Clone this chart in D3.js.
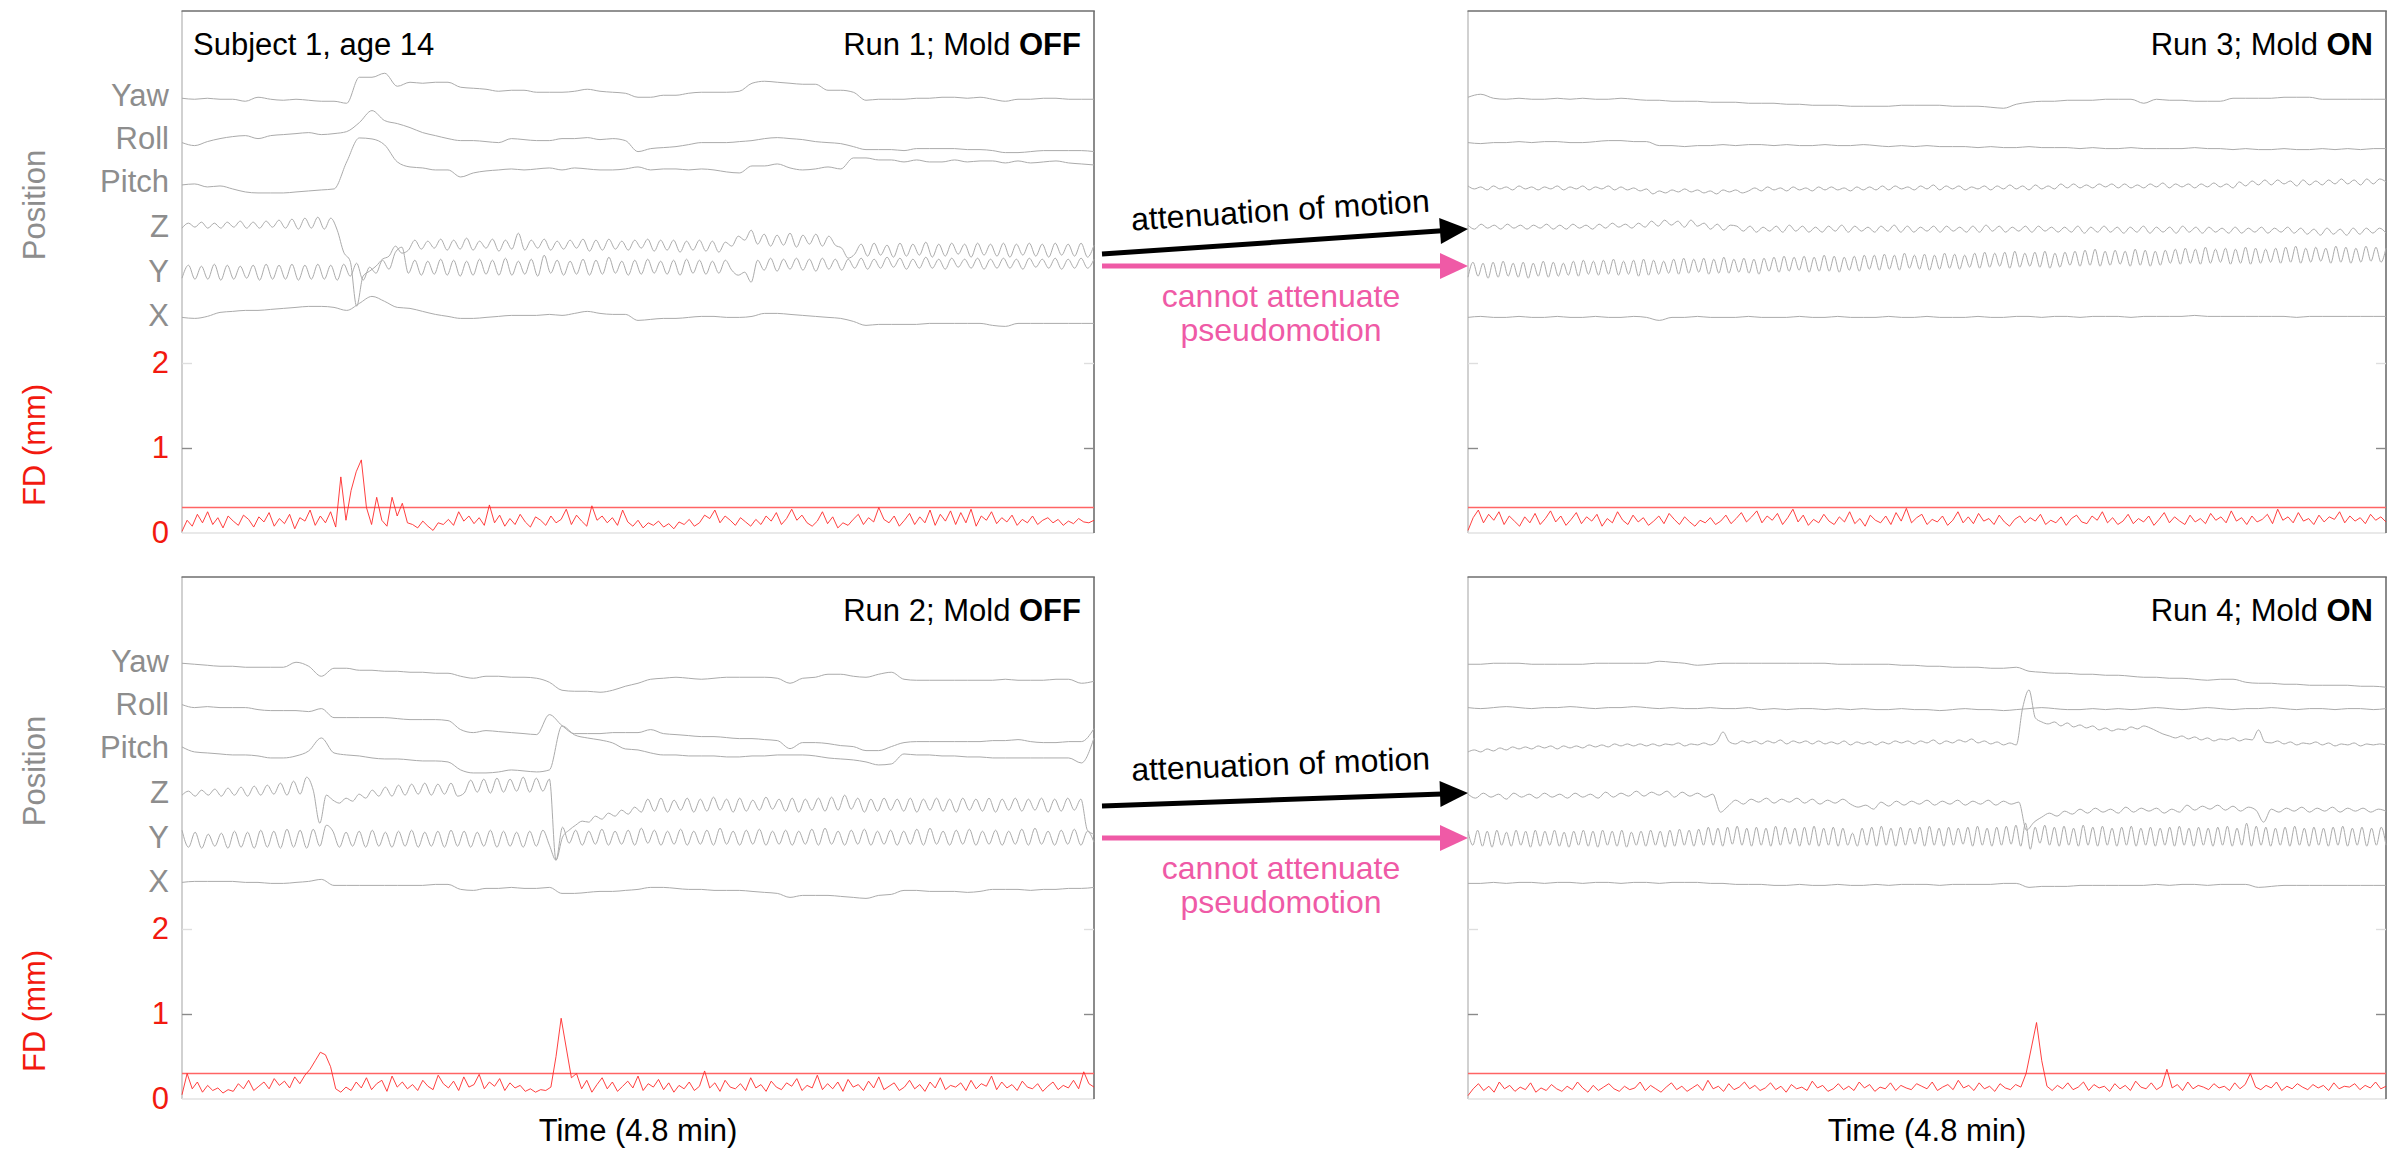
<!DOCTYPE html>
<html><head><meta charset="utf-8">
<script src="https://cdn.jsdelivr.net/npm/d3@7"></script>
<style>
body{margin:0;background:#fff}
svg{display:block}
text{font-family:"Liberation Sans",Arial,Helvetica,sans-serif}
</style>
</head><body>
<svg id="chart" width="2400" height="1149"></svg>
<script>
// ---------------- DATA ----------------
const channelLabels = ["Yaw","Roll","Pitch","Z","Y","X"];
const channelTicks  = [5.15,4.64,4.13,3.61,3.08,2.56];   // axis positions of the position channels (FD-axis units)
const fdTicks = [2,1,0];
const fdThreshold = 0.3;
const runTitles = ["Run 1; Mold ","Run 2; Mold ","Run 3; Mold ","Run 4; Mold "];
const runStates = ["OFF","OFF","ON","ON"];
const subjectLabel = "Subject 1, age 14";
const timeLabel = "Time (4.8 min)";

// Run 1 (mold off)
const run1Yaw = [-3,-4,-3,-4,-4,-6,-2,-4,-5,-4,-5,-6,-6,-8,18,18,22,9,13,12,13,13,8,7,6,4,5,5,3,3,3,4,6,4,3,2,-2,-2,0,0,2,3,3,3,4,12,14,13,12,11,11,5,5,3,-5,-4,-4,-4,-3,-3,-2,-2,-3,-2,-4,-6,-4,-4,-3,-3,-4,-4,-4];
const run1Roll = [-4,-7,-3,0,2,3,0,3,4,5,6,4,5,7,16,28,18,15,11,6,3,0,-2,-2,-3,-4,0,-1,-2,-2,0,0,1,-1,0,-2,-13,-10,-9,-8,-6,-4,-4,-4,-3,-2,0,1,0,-1,-3,-4,-5,-8,-11,-11,-11,-12,-10,-10,-10,-10,-11,-11,-12,-14,-14,-13,-12,-12,-12,-12,-13];
const run1Pitch = [-3,-2,-5,-4,-7,-10,-11,-11,-11,-10,-9,-8,-7,20,44,43,37,20,15,14,12,12,5,9,11,12,13,12,13,14,12,14,13,12,12,13,15,12,13,13,12,13,12,10,9,16,16,18,14,12,13,15,13,24,24,22,22,20,22,20,20,22,20,21,21,19,21,19,20,21,19,18,17];
const run1Z = [-2,3,-1,4,-2,3,-2,4,-1,5,-2,4,-2,5,-1,6,-2,7,-3,8,-2,9,-3,8,-4,-26,-35,-80,-50,-45,-40,-33,-30,-20,-27,-24,-14,-23,-15,-22,-13,-24,-14,-23,-12,-24,-15,-22,-13,-25,-14,-23,-7,-24,-14,-22,-13,-24,-15,-23,-14,-22,-13,-25,-14,-24,-13,-23,-15,-24,-14,-22,-13,-25,-14,-24,-14,-26,-15,-24,-14,-25,-15,-26,-16,-20,-10,-14,-4,-18,-8,-20,-9,-19,-7,-21,-9,-18,-8,-20,-10,-19,-22,-32,-28,-18,-30,-17,-29,-19,-31,-17,-30,-18,-29,-16,-31,-18,-30,-17,-28,-18,-31,-17,-29,-18,-30,-17,-31,-18,-29,-17,-30,-18,-31,-17,-29,-18,-30,-17,-31,-19];
const run1Y = [-7,6,-8,5,-8,7,-9,6,-8,5,-7,6,-9,7,-8,6,-8,7,-9,6,-8,7,-8,6,-9,7,-5,8,-9,4,-2,11,2,19,24,-2,11,-4,10,-3,12,-4,11,-5,10,-4,12,-3,11,-4,13,-4,10,-3,12,-5,16,-2,11,-4,10,-3,12,-4,11,-3,14,-2,10,-4,11,-3,12,-2,10,-3,11,-4,12,-2,11,-3,10,-2,11,1,-4,-1,-11,11,1,13,0,12,2,13,1,12,0,13,2,12,1,12,3,13,2,12,3,14,4,13,2,12,3,14,3,12,2,13,4,12,3,13,2,12,3,13,3,12,2,13,4,12,3,13,2,12,3,13,3,12];
const run1X = [-2,-3,-1,3,4,5,5,6,7,8,9,9,8,5,12,19,14,8,7,4,1,-1,-3,-3,-2,-1,0,0,0,1,0,2,4,2,1,1,-5,-4,-3,-3,-2,-1,-1,-2,-2,-1,2,2,1,0,-1,-2,-3,-6,-10,-9,-9,-9,-9,-8,-8,-8,-8,-8,-10,-11,-8,-8,-8,-8,-8,-8,-8];
const run1FD = [0.02,0.15,0.08,0.22,0.12,0.25,0.1,0.18,0.06,0.2,0.14,0.09,0.21,0.16,0.07,0.19,0.13,0.24,0.08,0.17,0.11,0.22,0.05,0.18,0.14,0.27,0.09,0.2,0.12,0.25,0.07,0.66,0.15,0.5,0.72,0.86,0.3,0.1,0.42,0.15,0.08,0.42,0.2,0.35,0.12,0.1,0.06,0.14,0.08,0.03,0.12,0.1,0.16,0.09,0.25,0.14,0.2,0.11,0.18,0.09,0.33,0.12,0.21,0.08,0.17,0.1,0.22,0.13,0.07,0.19,0.15,0.09,0.2,0.12,0.16,0.28,0.1,0.21,0.14,0.08,0.32,0.15,0.2,0.12,0.18,0.09,0.27,0.13,0.08,0.15,0.06,0.12,0.09,0.14,0.07,0.11,0.05,0.13,0.1,0.16,0.08,0.12,0.21,0.17,0.27,0.12,0.2,0.15,0.09,0.18,0.13,0.08,0.16,0.1,0.2,0.14,0.24,0.1,0.17,0.28,0.15,0.21,0.12,0.08,0.14,0.25,0.11,0.19,0.06,0.12,0.09,0.16,0.22,0.1,0.18,0.13,0.3,0.16,0.12,0.2,0.08,0.15,0.23,0.1,0.19,0.12,0.27,0.09,0.22,0.14,0.26,0.1,0.24,0.12,0.28,0.08,0.2,0.15,0.25,0.11,0.18,0.13,0.21,0.09,0.16,0.12,0.2,0.1,0.15,0.18,0.12,0.16,0.09,0.14,0.11,0.17,0.13,0.12,0.15];

// Run 2 (mold off)
const run2Yaw = [-2,-3,-4,-5,-5,-6,-6,-6,-6,-1,-5,-15,-7,-7,-9,-9,-10,-10,-11,-11,-12,-12,-15,-17,-15,-15,-16,-16,-17,-21,-29,-30,-30,-31,-29,-25,-22,-18,-17,-16,-17,-18,-17,-16,-16,-16,-16,-17,-22,-17,-16,-13,-13,-15,-16,-13,-11,-18,-19,-19,-19,-19,-19,-19,-19,-18,-19,-19,-19,-18,-18,-22,-20];
const run2Roll = [0,-3,-2,-3,-3,-3,-5,-6,-6,-6,-7,-4,-13,-13,-13,-13,-13,-14,-15,-15,-15,-16,-25,-28,-26,-27,-28,-29,-30,-10,-21,-29,-29,-29,-28,-28,-28,-25,-29,-30,-31,-32,-32,-33,-34,-34,-35,-36,-44,-38,-38,-39,-41,-42,-46,-46,-42,-38,-37,-37,-37,-37,-37,-37,-36,-36,-35,-37,-38,-38,-37,-37,-24];
const run2Pitch = [1,-4,-5,-6,-7,-7,-8,-10,-10,-8,-3,10,-5,-7,-8,-10,-11,-11,-12,-13,-13,-14,-22,-25,-25,-24,-22,-23,-24,-22,22,13,10,8,5,-1,-2,-5,-7,-7,-8,-8,-8,-9,-9,-8,-8,-7,-7,-7,-8,-10,-11,-12,-14,-17,-16,-6,-7,-7,-8,-8,-9,-9,-10,-10,-10,-10,-10,-10,-10,-15,10];
const run2Z = [-3,1,-4,2,-3,3,-4,4,-3,5,-4,6,-3,7,-2,9,-3,11,-2,15,2,-31,-3,-8,-11,-6,-9,-2,-6,2,-4,5,-4,7,-3,8,-2,9,-3,8,-2,9,-4,-1,12,0,13,-1,14,0,13,1,15,0,14,1,13,-68,-45,-38,-33,-29,-30,-24,-27,-21,-24,-18,-22,-15,-20,-7,-19,-6,-20,-8,-18,-6,-20,-7,-19,-5,-18,-7,-20,-6,-19,-8,-18,-5,-17,-7,-19,-6,-20,-7,-18,-6,-19,-5,-18,-3,-17,-6,-20,-7,-19,-6,-18,-7,-19,-6,-20,-7,-18,-6,-19,-7,-20,-6,-18,-7,-19,-6,-20,-7,-18,-6,-19,-7,-18,-6,-20,-7,-19,-6,-18,-7,-38,-42];
const run2Y = [7,-10,5,-11,3,-9,4,-11,6,-10,5,-11,7,-10,6,-11,8,-10,7,-11,8,-9,12,6,-10,5,-9,6,-10,7,-9,5,-10,6,-9,7,-10,5,-9,6,-10,7,-9,6,-10,5,-9,7,-10,6,-9,5,-10,6,-9,7,-8,-23,10,-6,7,-8,6,-7,8,-8,6,-7,7,-8,9,-6,7,-8,6,-7,8,-8,6,-7,7,-8,9,-7,6,-8,7,-7,8,-8,6,-7,7,-8,6,-7,8,-8,9,-7,6,-8,7,-7,8,-8,6,-7,7,-8,6,-7,8,-8,9,-7,6,-8,7,-7,8,-8,6,-7,7,-8,6,-7,8,-8,9,-7,6,-8,7,-7,8,-8,6,-5];
const run2X = [-1,0,0,0,0,-1,-1,-2,-2,-1,0,2,-4,-4,-4,-4,-4,-4,-4,-4,-3,-3,-8,-9,-7,-7,-6,-7,-7,-6,-12,-12,-11,-10,-10,-9,-8,-6,-6,-7,-8,-8,-9,-9,-9,-10,-11,-12,-16,-14,-14,-14,-15,-16,-17,-14,-13,-9,-9,-10,-10,-10,-11,-10,-8,-8,-8,-9,-8,-8,-7,-7,-6];
const run2FD = [0.05,0.3,0.12,0.2,0.08,0.16,0.1,0.13,0.07,0.11,0.09,0.18,0.12,0.22,0.1,0.15,0.2,0.12,0.24,0.16,0.21,0.13,0.26,0.18,0.28,0.35,0.45,0.55,0.52,0.38,0.12,0.08,0.14,0.1,0.2,0.13,0.25,0.11,0.18,0.22,0.09,0.27,0.14,0.2,0.12,0.17,0.1,0.22,0.15,0.11,0.28,0.18,0.13,0.21,0.1,0.26,0.14,0.17,0.29,0.12,0.2,0.15,0.24,0.1,0.19,0.13,0.16,0.09,0.12,0.08,0.11,0.1,0.14,0.5,0.95,0.6,0.25,0.3,0.12,0.22,0.08,0.17,0.25,0.12,0.2,0.09,0.15,0.21,0.13,0.27,0.1,0.18,0.14,0.23,0.11,0.19,0.08,0.16,0.12,0.2,0.1,0.15,0.33,0.13,0.19,0.09,0.22,0.14,0.12,0.18,0.1,0.25,0.13,0.17,0.09,0.21,0.14,0.11,0.19,0.15,0.24,0.1,0.16,0.13,0.28,0.11,0.18,0.12,0.2,0.09,0.23,0.14,0.17,0.1,0.21,0.13,0.26,0.11,0.15,0.19,0.1,0.14,0.22,0.12,0.17,0.09,0.2,0.13,0.25,0.11,0.16,0.14,0.19,0.1,0.22,0.12,0.18,0.15,0.27,0.11,0.2,0.13,0.17,0.1,0.21,0.14,0.12,0.18,0.09,0.15,0.2,0.11,0.16,0.13,0.22,0.12,0.32,0.18,0.14];

// Run 3 (mold on)
const run3Yaw = [-2,1,-3,-4,-3,-4,-4,-3,-4,-3,-4,-4,-3,-4,-5,-5,-6,-6,-6,-7,-7,-7,-8,-8,-8,-9,-9,-10,-10,-10,-11,-11,-11,-11,-10,-10,-10,-10,-11,-11,-11,-12,-13,-9,-7,-6,-6,-5,-5,-5,-4,-4,-4,-8,-4,-5,-5,-6,-6,-6,-3,-3,-3,-3,-2,-2,-2,-4,-4,-4,-4,-4,-4];
const run3Roll = [-4,-5,-4,-4,-3,-4,-3,-3,-4,-4,-3,-2,-2,-3,-3,-7,-7,-8,-7,-7,-6,-7,-6,-6,-7,-6,-7,-7,-6,-7,-7,-6,-7,-8,-7,-8,-7,-8,-8,-8,-9,-8,-9,-9,-8,-9,-9,-9,-10,-9,-10,-10,-9,-10,-10,-10,-10,-9,-10,-10,-11,-10,-11,-11,-10,-11,-11,-10,-11,-10,-11,-10,-10];
const run3Pitch = [-4,-7,-5,-8,-4,-7,-5,-8,-4,-7,-5,-8,-5,-7,-4,-8,-5,-7,-4,-8,-5,-7,-4,-8,-5,-8,-6,-9,-7,-12,-9,-11,-8,-10,-7,-10,-8,-11,-9,-12,-8,-10,-8,-11,-9,-6,-9,-5,-8,-6,-9,-5,-8,-6,-9,-5,-8,-5,-8,-6,-9,-5,-8,-5,-8,-4,-8,-4,-7,-5,-8,-4,-7,-3,-8,-4,-7,-4,-8,-5,-7,-4,-8,-4,-7,-3,-7,-4,-8,-3,-7,-4,-7,-2,-6,-2,-6,-3,-6,-2,-5,-2,-6,-2,-6,-3,-6,-2,-5,-1,-6,-2,-5,-2,-6,-2,-5,-1,-5,-2,-6,0,-4,1,-3,2,-3,2,-2,1,-4,2,-3,1,-3,2,-2,3,-2,2,-3,3,-2,3,0];
const run3Z = [1,-3,2,-2,1,-3,2,-2,1,-3,1,-2,2,-3,1,-3,2,-2,1,-3,2,-2,3,-1,2,-2,3,-1,5,0,6,1,5,-1,6,0,3,-3,2,-4,1,0,-5,0,-6,-1,-5,0,-6,1,-5,0,-6,-1,-6,0,-5,1,-6,0,-5,-1,-6,0,-5,1,-6,0,-6,-1,-5,0,-6,0,-5,-1,-6,0,-6,1,-5,0,-6,-1,-5,0,-6,0,-5,-1,-6,-1,-6,0,-7,-1,-6,0,-6,-1,-7,-1,-6,0,-7,-1,-6,-1,-7,0,-6,-1,-7,-1,-6,-2,-7,-1,-7,-2,-6,-1,-7,-2,-6,-1,-7,-2,-8,-3,-9,-2,-8,-3,-9,-2,-8,-2,-7,-2,-7];
const run3Y = [-6,9,-5,8,-7,9,-6,10,-5,8,-6,9,-7,8,-5,10,-6,9,-5,8,-4,10,-5,11,-3,10,-4,11,-3,12,-4,10,-3,11,-5,12,-4,11,-3,10,-2,12,-3,13,-2,12,-1,13,-3,12,-2,14,-2,12,-1,13,-2,12,-3,13,0,14,-1,15,0,14,1,15,-1,14,0,16,0,15,-1,14,1,15,0,16,2,16,1,17,2,16,1,18,3,16,2,17,1,16,2,18,3,17,2,16,4,18,3,19,4,18,5,19,3,20,4,18,5,19,4,20,3,18,4,19,6,20,5,21,6,22,5,20,6,21,7,20,5,22,6,21,5,20,6,21,8,22,7,23,8,22,7,24,8,22,9,23,7,22,8,24,7,23,8,22,9,23,8,24,9,25,8,23,9,24,10,23,8,25,9,24,8,23,9,25,10,24,9,23];
const run3X = [-2,-1,-2,-2,-1,-2,-2,-1,-2,-2,-1,-2,-2,-1,-2,-5,-2,-2,-1,-2,-2,-2,-1,-2,-2,-2,-1,-2,-2,-1,-2,-2,-2,-1,-2,-2,-1,-2,-2,-2,-1,-2,-2,-1,-1,-2,-1,-1,-2,-1,-1,-1,-2,-1,-1,-1,-1,0,-1,-1,-1,-1,-1,-1,-1,-2,-1,-1,-1,-1,-1,-1,-1];
const run3FD = [0.03,0.18,0.27,0.12,0.22,0.15,0.25,0.1,0.2,0.14,0.08,0.19,0.12,0.23,0.1,0.17,0.26,0.13,0.2,0.09,0.16,0.24,0.11,0.19,0.14,0.22,0.08,0.17,0.12,0.25,0.15,0.1,0.21,0.13,0.18,0.09,0.14,0.2,0.11,0.23,0.16,0.1,0.19,0.13,0.08,0.15,0.12,0.18,0.1,0.14,0.21,0.11,0.17,0.24,0.13,0.19,0.26,0.12,0.2,0.15,0.23,0.1,0.18,0.28,0.13,0.21,0.09,0.16,0.12,0.22,0.14,0.1,0.19,0.13,0.25,0.11,0.17,0.08,0.21,0.15,0.12,0.2,0.1,0.24,0.14,0.29,0.12,0.18,0.22,0.1,0.16,0.13,0.2,0.09,0.15,0.25,0.12,0.19,0.11,0.23,0.14,0.17,0.1,0.21,0.13,0.08,0.16,0.2,0.12,0.18,0.14,0.22,0.1,0.15,0.12,0.19,0.09,0.17,0.21,0.13,0.11,0.2,0.15,0.25,0.12,0.18,0.1,0.14,0.22,0.11,0.17,0.13,0.2,0.09,0.16,0.24,0.12,0.19,0.14,0.1,0.21,0.13,0.17,0.11,0.23,0.15,0.19,0.12,0.26,0.14,0.18,0.1,0.2,0.13,0.16,0.22,0.11,0.28,0.15,0.19,0.12,0.24,0.14,0.17,0.1,0.21,0.13,0.19,0.16,0.25,0.12,0.2,0.14,0.18,0.11,0.22,0.15,0.19,0.13];

// Run 4 (mold on)
const run4Yaw = [-3,-3,-2,-2,-2,-3,-3,-3,-3,-3,-2,-2,-2,-2,-2,0,-1,-2,-4,-3,-2,-2,-2,-2,-2,-2,-2,-2,-2,-3,-3,-3,-3,-3,-4,-4,-5,-5,-6,-6,-6,-7,-7,-6,-10,-11,-12,-12,-13,-13,-14,-14,-15,-16,-16,-17,-17,-18,-19,-18,-18,-21,-22,-22,-23,-23,-24,-24,-24,-24,-25,-25,-26];
const run4Roll = [-3,-4,-3,-2,-3,-4,-3,-3,-2,-3,-4,-3,-3,-2,-3,-4,-3,-4,-4,-3,-4,-4,-3,-5,-4,-5,-4,-4,-5,-4,-5,-4,-5,-5,-4,-5,-5,-6,-5,-4,-5,-5,-6,-5,-4,-3,-4,-5,-5,-4,-5,-4,-5,-4,-3,-4,-5,-4,-3,-4,-5,-4,-4,-3,-4,-5,-4,-4,-5,-4,-4,-5,-4];
const run4Pitch = [-4,-2,-4,-1,-3,0,-2,1,-1,1,-1,2,0,2,-1,2,0,2,0,3,1,3,1,4,2,4,2,4,2,4,2,4,3,5,2,4,3,5,3,6,16,6,4,7,5,7,4,7,5,8,4,7,5,7,4,7,4,6,4,7,3,6,4,6,3,6,4,7,5,7,4,7,5,8,4,7,5,8,6,9,5,7,4,6,3,5,3,40,58,30,26,24,26,22,25,21,23,20,22,18,20,17,19,18,21,19,22,20,17,14,12,10,12,9,11,8,10,7,9,8,10,7,9,8,18,6,5,7,4,6,3,5,4,6,3,5,2,4,3,5,2,4,3,4,3];
const run4Z = [-2,-6,-1,-5,-2,-7,-1,-5,-2,-6,-1,-5,-2,-6,-1,-5,-2,-6,0,-5,-1,-4,1,-4,0,-3,1,-5,0,-4,-1,-5,-2,-20,-14,-8,-12,-7,-10,-6,-11,-7,-10,-6,-11,-7,-12,-8,-11,-7,-12,-15,-13,-17,-10,-14,-9,-13,-9,-12,-8,-13,-9,-12,-8,-13,-9,-12,-8,-13,-9,-12,-10,-38,-30,-25,-21,-24,-19,-22,-17,-21,-16,-20,-17,-21,-15,-20,-16,-19,-16,-21,-17,-20,-13,-18,-14,-17,-13,-18,-14,-19,-15,-18,-30,-17,-20,-16,-19,-15,-20,-16,-19,-15,-20,-16,-19,-16,-20,-17,-19];
const run4Y = [6,-8,7,-9,6,-10,7,-8,5,-9,7,-8,6,-10,7,-9,6,-8,7,-9,5,-10,6,-8,7,-9,6,-10,7,-8,6,-9,7,-10,5,-8,6,-9,7,-8,6,-10,7,-9,8,-8,7,-9,8,-8,10,-8,9,-9,10,-7,11,-8,9,-9,10,-8,9,-9,11,-8,10,-7,9,-9,10,-8,11,-9,9,-8,10,-9,9,-8,4,-9,9,-8,10,-9,11,-8,9,-9,10,-8,9,-7,10,-9,11,-8,9,-9,10,-8,9,-7,10,-9,11,-8,9,-9,10,-8,11,-7,12,-9,14,-12,10,-6,12,-8,10,-9,11,-8,9,-9,12,-8,10,-9,11,-8,9,-9,10,-8,11,-9,9,-8,10,-9,9,-8,10,-9,11,-8,9,-9,10,-8,9,-9,10,-8,11,-9,9,-8,14,-9,11,-8,10,-9,9,-8,10,-9,11,-8,9,-9,10,-8,9,-9,10,-8,11,-9,9,-8,10,-9,9,-8,10,-8];
const run4X = [-2,-2,-1,-2,-1,-1,-2,-1,-1,-2,-1,-1,-2,-1,-1,-2,-1,-1,-1,-2,-2,-3,-3,-3,-4,-4,-3,-4,-4,-3,-4,-4,-3,-4,-3,-3,-3,-4,-3,-3,-3,-3,-2,-2,-6,-5,-5,-5,-4,-4,-4,-4,-4,-4,-3,-4,-3,-3,-4,-3,-3,-3,-6,-5,-4,-4,-4,-4,-4,-4,-4,-4,-4];
const run4FD = [0.04,0.12,0.18,0.1,0.15,0.08,0.2,0.12,0.16,0.09,0.14,0.11,0.19,0.08,0.13,0.1,0.17,0.12,0.09,0.15,0.11,0.2,0.13,0.08,0.16,0.1,0.14,0.18,0.12,0.09,0.15,0.11,0.13,0.2,0.1,0.16,0.12,0.08,0.14,0.19,0.11,0.15,0.09,0.13,0.17,0.1,0.22,0.12,0.15,0.09,0.18,0.11,0.14,0.2,0.12,0.16,0.1,0.13,0.19,0.11,0.15,0.08,0.17,0.12,0.14,0.1,0.21,0.13,0.16,0.09,0.12,0.18,0.11,0.15,0.1,0.2,0.13,0.17,0.09,0.14,0.12,0.19,0.1,0.16,0.13,0.11,0.18,0.15,0.12,0.2,0.1,0.14,0.17,0.11,0.22,0.13,0.16,0.1,0.19,0.12,0.15,0.09,0.18,0.13,0.11,0.17,0.14,0.3,0.6,0.9,0.45,0.15,0.1,0.16,0.12,0.19,0.11,0.14,0.2,0.1,0.17,0.13,0.15,0.09,0.18,0.12,0.16,0.1,0.21,0.14,0.12,0.19,0.11,0.15,0.35,0.13,0.17,0.1,0.2,0.12,0.16,0.14,0.11,0.18,0.13,0.15,0.1,0.19,0.12,0.17,0.3,0.14,0.11,0.16,0.13,0.2,0.1,0.15,0.12,0.18,0.14,0.11,0.17,0.13,0.16,0.1,0.19,0.12,0.15,0.14,0.18,0.11,0.16,0.13,0.2,0.12,0.15];

const annotationTop = "attenuation of motion";
const annotationBottom = ["cannot attenuate","pseudomotion"];

// ---------------- LAYOUT / STYLE ----------------
const runs = [
  {chan:[run1Yaw,run1Roll,run1Pitch,run1Z,run1Y,run1X], fd:run1FD},
  {chan:[run2Yaw,run2Roll,run2Pitch,run2Z,run2Y,run2X], fd:run2FD},
  {chan:[run3Yaw,run3Roll,run3Pitch,run3Z,run3Y,run3X], fd:run3FD},
  {chan:[run4Yaw,run4Roll,run4Pitch,run4Z,run4Y,run4X], fd:run4FD}
];
const panels = [
  {left:182,  top:11,  w:912, h:522, labels:true,  subject:true},
  {left:182,  top:577, w:912, h:522, labels:true,  subject:false},
  {left:1468, top:11,  w:918, h:522, labels:false, subject:false},
  {left:1468, top:577, w:918, h:522, labels:false, subject:false}
];
const pxPerUnit = 85;
const yMax = 522/pxPerUnit;
const posGain = 1/pxPerUnit;
const GRAY_LABEL = "#8d8d8d", RED = "#f2190f", PINK = "#ef5aa6";
const FONT = 31;

const svg = d3.select("#chart");
svg.append("rect").attr("width",2400).attr("height",1149).attr("fill","#fff");

panels.forEach((P, pi) => {
  const run = runs[pi];
  const x = d3.scaleLinear().domain([0,1]).range([P.left, P.left + P.w]);
  const y = d3.scaleLinear().domain([0,yMax]).range([P.top + P.h, P.top]);
  const g = svg.append("g");

  // frame
  g.append("line").attr("x1",P.left).attr("x2",P.left).attr("y1",P.top).attr("y2",P.top+P.h)
    .attr("stroke","#b8b8b8").attr("stroke-width",1.3);
  g.append("line").attr("x1",P.left).attr("x2",P.left+P.w).attr("y1",P.top+P.h).attr("y2",P.top+P.h)
    .attr("stroke","#e2e2e2").attr("stroke-width",1.3);
  g.append("line").attr("x1",P.left-0.5).attr("x2",P.left+P.w+0.8).attr("y1",P.top).attr("y2",P.top)
    .attr("stroke","#6e6e6e").attr("stroke-width",1.6);
  g.append("line").attr("x1",P.left+P.w).attr("x2",P.left+P.w).attr("y1",P.top).attr("y2",P.top+P.h)
    .attr("stroke","#6e6e6e").attr("stroke-width",1.6);

  // inward ticks at FD 1 and 2
  const tickCol = d => d === 1 ? "#8a8a8a" : "#dedede";
  g.append("g").attr("transform",`translate(${P.left},0)`)
    .call(d3.axisRight(y).tickValues([1,2]).tickSize(10).tickFormat(""))
    .call(s => { s.select(".domain").remove(); s.selectAll(".tick line").attr("stroke", tickCol).attr("stroke-width",1.4); });
  g.append("g").attr("transform",`translate(${P.left+P.w},0)`)
    .call(d3.axisLeft(y).tickValues([1,2]).tickSize(10).tickFormat(""))
    .call(s => { s.select(".domain").remove(); s.selectAll(".tick line").attr("stroke", tickCol).attr("stroke-width",1.4); });

  // labelled left axis
  if (P.labels) {
    const vals = channelTicks.concat(fdTicks);
    g.append("g").attr("transform",`translate(${P.left},0)`)
      .call(d3.axisLeft(y).tickValues(vals).tickSize(0).tickPadding(13)
        .tickFormat((d,i) => i < channelLabels.length ? channelLabels[i] : String(d)))
      .call(s => {
        s.select(".domain").remove();
        s.attr("font-family",null).attr("font-size",null);
        s.selectAll(".tick text").attr("font-size",FONT)
          .attr("fill",(d,i) => i < channelLabels.length ? GRAY_LABEL : RED);
      });
    svg.append("text").attr("transform",`translate(45,${P.top + 194}) rotate(-90)`)
      .attr("text-anchor","middle").attr("font-size",FONT).attr("fill",GRAY_LABEL).text("Position");
    svg.append("text").attr("transform",`translate(45,${P.top + 434}) rotate(-90)`)
      .attr("text-anchor","middle").attr("font-size",FONT).attr("fill",RED).text("FD (mm)");
  }

  // threshold line
  g.append("line").attr("x1",P.left).attr("x2",P.left+P.w).attr("y1",y(fdThreshold)).attr("y2",y(fdThreshold))
    .attr("stroke","#ff6464").attr("stroke-width",1.6);

  // FD trace
  const nF = run.fd.length;
  g.append("path").datum(run.fd)
    .attr("d", d3.line().x((d,i) => x(i/(nF-1))).y(d => y(d)))
    .attr("fill","none").attr("stroke","#ff2a2a").attr("stroke-width",0.9);

  // position traces
  run.chan.forEach((series, k) => {
    const n = series.length;
    g.append("path").datum(series)
      .attr("d", d3.line().curve(d3.curveMonotoneX)
        .x((d,i) => x(i/(n-1))).y(d => y(channelTicks[k] + d*posGain)))
      .attr("fill","none").attr("stroke","#ababab").attr("stroke-width",1);
  });

  // titles
  const ty = P.top + 44;
  const tt = svg.append("text").attr("x",P.left+P.w-13).attr("y",ty).attr("text-anchor","end")
    .attr("font-size",FONT).attr("fill","#000");
  tt.append("tspan").text(runTitles[pi]);
  tt.append("tspan").attr("font-weight","bold").text(runStates[pi]);
  if (P.subject) {
    svg.append("text").attr("x",P.left+11).attr("y",ty).attr("font-size",FONT).attr("fill","#000").text(subjectLabel);
  }
  if (pi === 1 || pi === 3) {
    svg.append("text").attr("x",P.left+P.w/2).attr("y",1141).attr("text-anchor","middle")
      .attr("font-size",FONT).attr("fill","#000").text(timeLabel);
  }
});

// arrows + annotations
function arrow(x1,y1,x2,y2,color){
  const ang = Math.atan2(y2-y1,x2-x1), L = 28, W = 13;
  const bx = x2 - L*Math.cos(ang), by = y2 - L*Math.sin(ang);
  svg.append("line").attr("x1",x1).attr("y1",y1).attr("x2",bx+2*Math.cos(ang)).attr("y2",by+2*Math.sin(ang))
    .attr("stroke",color).attr("stroke-width",5);
  const px = -Math.sin(ang)*W, py = Math.cos(ang)*W;
  svg.append("path").attr("d",`M${x2},${y2}L${bx+px},${by+py}L${bx-px},${by-py}Z`).attr("fill",color);
}
const arrowSets = [
  {black:[1102,254,1468,229], pink:[1102,266,1468,266], tx:1281, ty:221, rot:-3.6, p1:307, p2:341},
  {black:[1102,806,1468,793], pink:[1102,838,1468,838], tx:1281, ty:775, rot:-2.2, p1:879, p2:913}
];
arrowSets.forEach(a => {
  arrow(...a.black,"#000");
  arrow(...a.pink,PINK);
  svg.append("text").attr("transform",`translate(${a.tx},${a.ty}) rotate(${a.rot})`).attr("text-anchor","middle")
    .attr("font-size",32).attr("fill","#000").text(annotationTop);
  svg.append("text").attr("x",a.tx).attr("y",a.p1).attr("text-anchor","middle").attr("font-size",32).attr("fill",PINK).text(annotationBottom[0]);
  svg.append("text").attr("x",a.tx).attr("y",a.p2).attr("text-anchor","middle").attr("font-size",32).attr("fill",PINK).text(annotationBottom[1]);
});
</script>
</body></html>
